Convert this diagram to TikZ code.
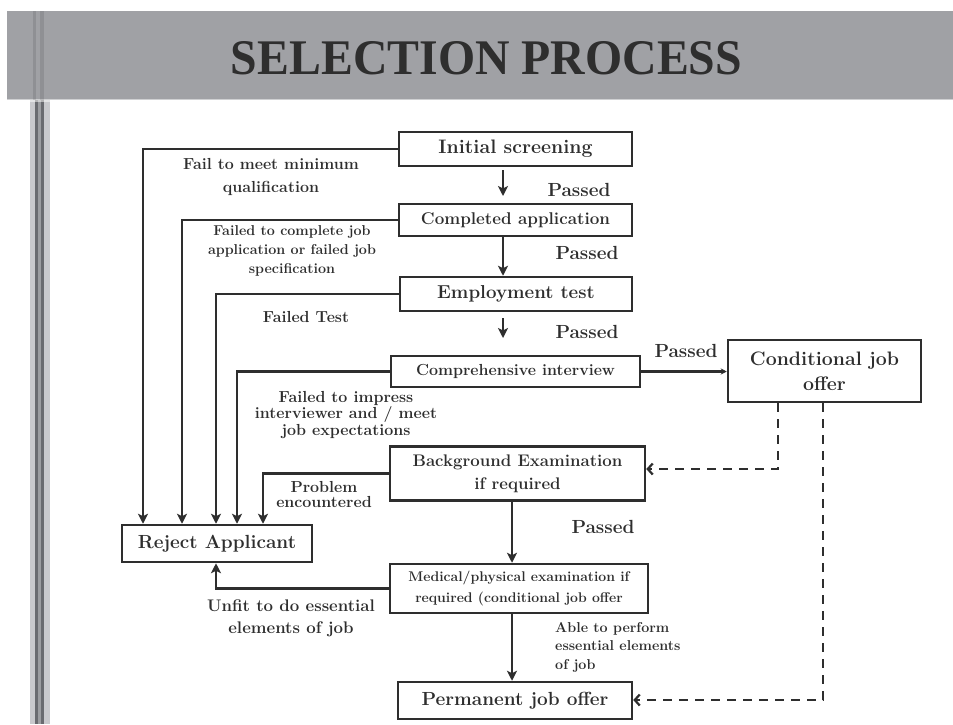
\documentclass[tikz,border=0pt]{standalone}
\usepackage{fontspec}
\usepackage{graphicx}
\newfontfamily\titlefont{Liberation Serif}
\usetikzlibrary{arrows.meta,calc}
\definecolor{ink}{HTML}{2E2E2E}
\definecolor{barc}{RGB}{160,161,165}
\definecolor{stripeL}{RGB}{200,201,205}
\definecolor{stripeD}{RGB}{105,107,112}
\definecolor{stripeM}{RGB}{155,157,161}
\newcommand\fsz[2]{\fontsize{#1}{#2}\selectfont}
\begin{document}
\begin{tikzpicture}[x=1pt,y=-1pt,
  box/.style={draw=ink, line width=2.5pt, fill=white, inner sep=0pt, align=center, text=ink},
  lbl/.style={text=ink, align=center, inner sep=0pt},
  arr/.style={draw=ink, line width=2.4pt, -{Stealth[length=10pt,width=10pt,inset=2.5pt]}},
  dasharr/.style={draw=ink, line width=2.2pt, dash pattern=on 9pt off 7pt, -{Straight Barb[length=5pt,width=11pt]}},
  thinarr/.style={draw=ink, line width=2.2pt, -{Stealth[length=6pt,width=6pt]}}]
\useasboundingbox (0,0) rectangle (953,724);
\fill[white] (0,0) rectangle (953,724);
% left stripes
\fill[stripeL] (30,100) rectangle (50,724);
\fill[stripeD] (35,100) rectangle (38,724);
\fill[stripeM] (38,100) rectangle (41,724);
\fill[stripeD] (41,100) rectangle (44,724);
% title bar
\fill[barc] (7,11) rectangle (953,100);
\fill[white, opacity=0.5] (7,99) rectangle (953,102);
\fill[black, opacity=0.10] (33,11) rectangle (36,100);
\fill[black, opacity=0.10] (40,11) rectangle (44,100);
\node[text=ink, inner sep=0pt] (title) at (486.5,58.5) {\resizebox{511pt}{33pt}{\titlefont\bfseries SELECTION PROCESS}};

% boxes
\node[box, minimum width=233pt, minimum height=34pt, font=\fsz{19.5}{22}\bfseries] (init) at (515.5,149) {Initial screening};
\node[box, minimum width=233pt, minimum height=32pt, font=\fsz{17}{20}\bfseries] (compl) at (515.5,220) {Completed application};
\node[box, minimum width=232pt, minimum height=34pt, font=\fsz{18.7}{22}\bfseries] (empl) at (516,294) {Employment test};
\node[box, minimum width=249pt, minimum height=31pt, font=\fsz{16}{20}\bfseries] (compr) at (515.5,371.5) {Comprehensive interview};
\node[box, minimum width=193pt, minimum height=62pt, font=\fsz{19.5}{25}\bfseries] (cond) at (824.5,371) {Conditional job\\offer};
\node[box, minimum width=255pt, minimum height=54pt, font=\fsz{16.8}{23}\bfseries] (backg) at (517.5,473.5) {Background Examination\\if required};
\node[box, minimum width=190pt, minimum height=37pt, font=\fsz{19}{22}\bfseries] (reject) at (217,543.5) {Reject Applicant};
\node[box, minimum width=258pt, minimum height=49pt, font=\fsz{14}{21}\bfseries] (med) at (519,588.5) {Medical/physical examination if\\required (conditional job offer};
\node[box, minimum width=234pt, minimum height=37pt, font=\fsz{19}{22}\bfseries] (perm) at (515,700.5) {Permanent job offer};

% main vertical flow
\coordinate (a1s) at (503,170);
\coordinate (a1e) at (503,196);
\draw[arr] (a1s) -- (a1e);
\draw[arr] (compl.south -| a1s) -- (empl.north -| a1s);
\coordinate (a3s) at (503,318);
\coordinate (a3e) at (503,338);
\draw[arr] (a3s) -- (a3e);
\coordinate (vx) at (512,0);
\draw[arr] (backg.south -| vx) -- (med.north -| vx);
\draw[arr] (med.south -| vx) -- (perm.north -| vx);
\draw[thinarr] (compr.east) -- (cond.west |- compr.east);

% reject connectors
\draw[arr] (init.west) -| ([xshift=-74pt]reject.north);
\draw[arr] (compl.west) -| ([xshift=-35pt]reject.north);
\draw[arr] (empl.west) -| ([xshift=-1pt]reject.north);
\draw[arr] (compr.west) -| ([xshift=20pt]reject.north);
\draw[arr] (backg.west) -| ([xshift=46pt]reject.north);
\draw[arr] (med.west) -| ([xshift=-1pt]reject.south);

% dashed from conditional offer
\coordinate (c1) at (778,469);
\draw[dasharr] (cond.south -| c1) -- (c1) -- (c1 -| backg.east);
\coordinate (c2) at (823,700);
\draw[dasharr] (cond.south -| c2) -- (c2) -- (c2 -| perm.east);

% labels
\node[lbl, font=\fsz{16}{23}\bfseries] (l1) at (271,177) {Fail to meet minimum\\qualification};
\node[lbl, font=\fsz{14.3}{19}\bfseries] (l2) at (292,251) {Failed to complete job\\application or failed job\\specification};
\node[lbl, font=\fsz{16}{20}\bfseries] (l3) at (306,317) {Failed Test};
\node[lbl, font=\fsz{16}{15}\bfseries] (l4) at (346,415) {Failed to impress\\interviewer and / meet\\job expectations};
\node[lbl, font=\fsz{16}{15}\bfseries] (l5) at (324,494.5) {Problem\\encountered};
\node[lbl, font=\fsz{16.8}{22}\bfseries] (l6) at (291,618) {Unfit to do essential\\elements of job};
\node[lbl, align=left, anchor=west, font=\fsz{14.3}{18.5}\bfseries] (l7) at (555,647) {Able to perform\\essential elements\\of job};
\node[lbl, font=\fsz{19}{22}\bfseries] (p1) at (579,190) {Passed};
\node[lbl, font=\fsz{19}{22}\bfseries] (p2) at (587,253) {Passed};
\node[lbl, font=\fsz{19}{22}\bfseries] (p3) at (587,332) {Passed};
\node[lbl, font=\fsz{19}{22}\bfseries] (p4) at (686,351) {Passed};
\node[lbl, font=\fsz{19}{22}\bfseries] (p5) at (603,527) {Passed};
\end{tikzpicture}
\end{document}
